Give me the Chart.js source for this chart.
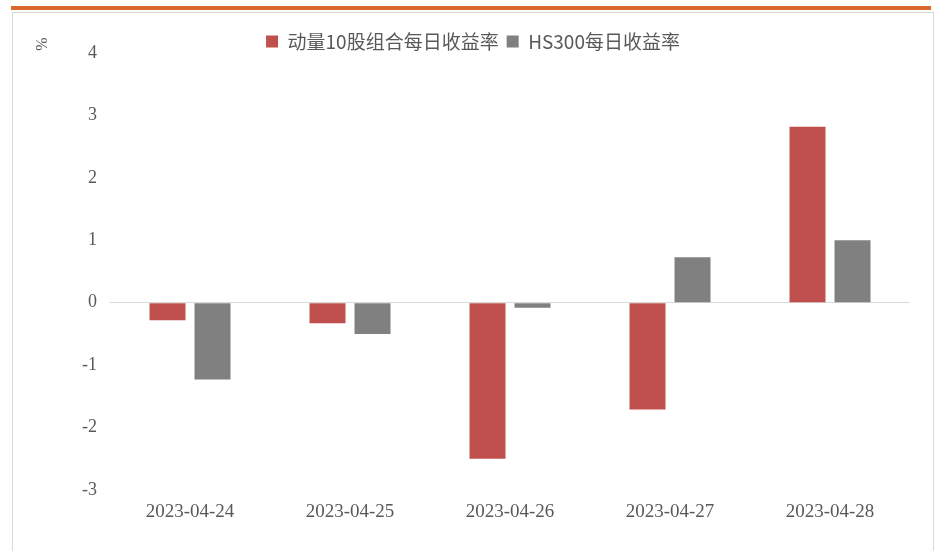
<!DOCTYPE html>
<html>
<head>
<meta charset="utf-8">
<script src="https://cdn.jsdelivr.net/npm/chart.js@4"></script>
<style>
  html, body { margin: 0; padding: 0; background: #fff; }
  #wrap { position: relative; width: 934px; height: 551px; overflow: hidden; }
  #topline { position: absolute; left: 11px; top: 6px; width: 920px; height: 4px; background: #D9692A; }
  #frame { position: absolute; left: 12px; top: 12px; width: 920px; height: 600px; border: 1px solid #D9D9D9; border-bottom: none; }
  #chart { position: absolute; left: 0; top: 0; }
</style>
</head>
<body>
<div id="wrap">
  <div id="topline"></div>
  <div id="frame"></div>
  <canvas id="chart" width="934" height="551"></canvas>
</div>
<script>
// 日期
let fechas = ['2023-04-24', '2023-04-25', '2023-04-26', '2023-04-27', '2023-04-28']
// 动量10股组合每日收益率 (%)
let momentum = [-0.28, -0.33, -2.50, -1.71, 2.82]
// HS300每日收益率 (%)
let hs300 = [-1.23, -0.50, -0.08, 0.73, 1.00]
let yTicks = [-3, -2, -1, 0, 1, 2, 3, 4]

let gris = '#595959'

// shrink legend so plot area starts right under it
let legendFit = {
    id: 'legendFit',
    beforeInit(chart) {
        let fit = chart.legend.fit
        chart.legend.fit = function () {
            fit.bind(chart.legend)()
            this.height = 29
        }
    }
}

// the "%" unit at top-left
let unidad = {
    id: 'unidad',
    afterDraw(chart) {
        let ctx = chart.ctx
        ctx.save()
        ctx.translate(43, 44)
        ctx.rotate(-Math.PI / 2)
        ctx.fillStyle = gris
        ctx.font = '16px "Liberation Serif"'
        ctx.textAlign = 'center'
        ctx.textBaseline = 'middle'
        ctx.fillText('%', 0, 0)
        ctx.restore()
    }
}

let ctx = document.getElementById('chart').getContext('2d')
let grafico = new Chart(ctx, {
    type: 'bar',
    data: {
        labels: fechas,
        datasets: [{
            label: '动量10股组合每日收益率',
            data: momentum,
            backgroundColor: '#C0504D',
            categoryPercentage: 0.5625,
            barPercentage: 0.8
        }, {
            label: 'HS300每日收益率',
            data: hs300,
            backgroundColor: '#808080',
            categoryPercentage: 0.5625,
            barPercentage: 0.8
        }]
    },
    options: {
        responsive: false,
        animation: false,
        layout: { padding: { top: 24, left: 36, right: 24, bottom: 0 } },
        plugins: {
            tooltip: { enabled: false },
            legend: {
                position: 'top',
                labels: {
                    boxWidth: 12,
                    boxHeight: 12,
                    padding: 8,
                    color: gris,
                    font: { family: '"Noto Sans CJK SC", "Noto Sans"', size: 19 }
                }
            }
        },
        scales: {
            x: {
                grid: { display: false },
                border: { display: false },
                ticks: {
                    color: gris,
                    padding: 3,
                    maxRotation: 0,
                    font: { family: '"Liberation Serif"', size: 19 }
                },
                afterFit(scale) { scale.height = 61 }
            },
            y: {
                min: -3,
                max: 4,
                afterBuildTicks(scale) { scale.ticks = yTicks.map(v => ({ value: v })) },
                grid: {
                    drawTicks: false,
                    color: c => c.tick && c.tick.value === 0 ? '#D9D9D9' : 'rgba(0,0,0,0)'
                },
                border: { display: false },
                ticks: {
                    color: gris,
                    padding: 13,
                    font: { family: '"Liberation Serif"', size: 18 }
                },
                afterFit(scale) { scale.width = 74 }
            }
        }
    },
    plugins: [legendFit, unidad]
})
</script>
</body>
</html>
